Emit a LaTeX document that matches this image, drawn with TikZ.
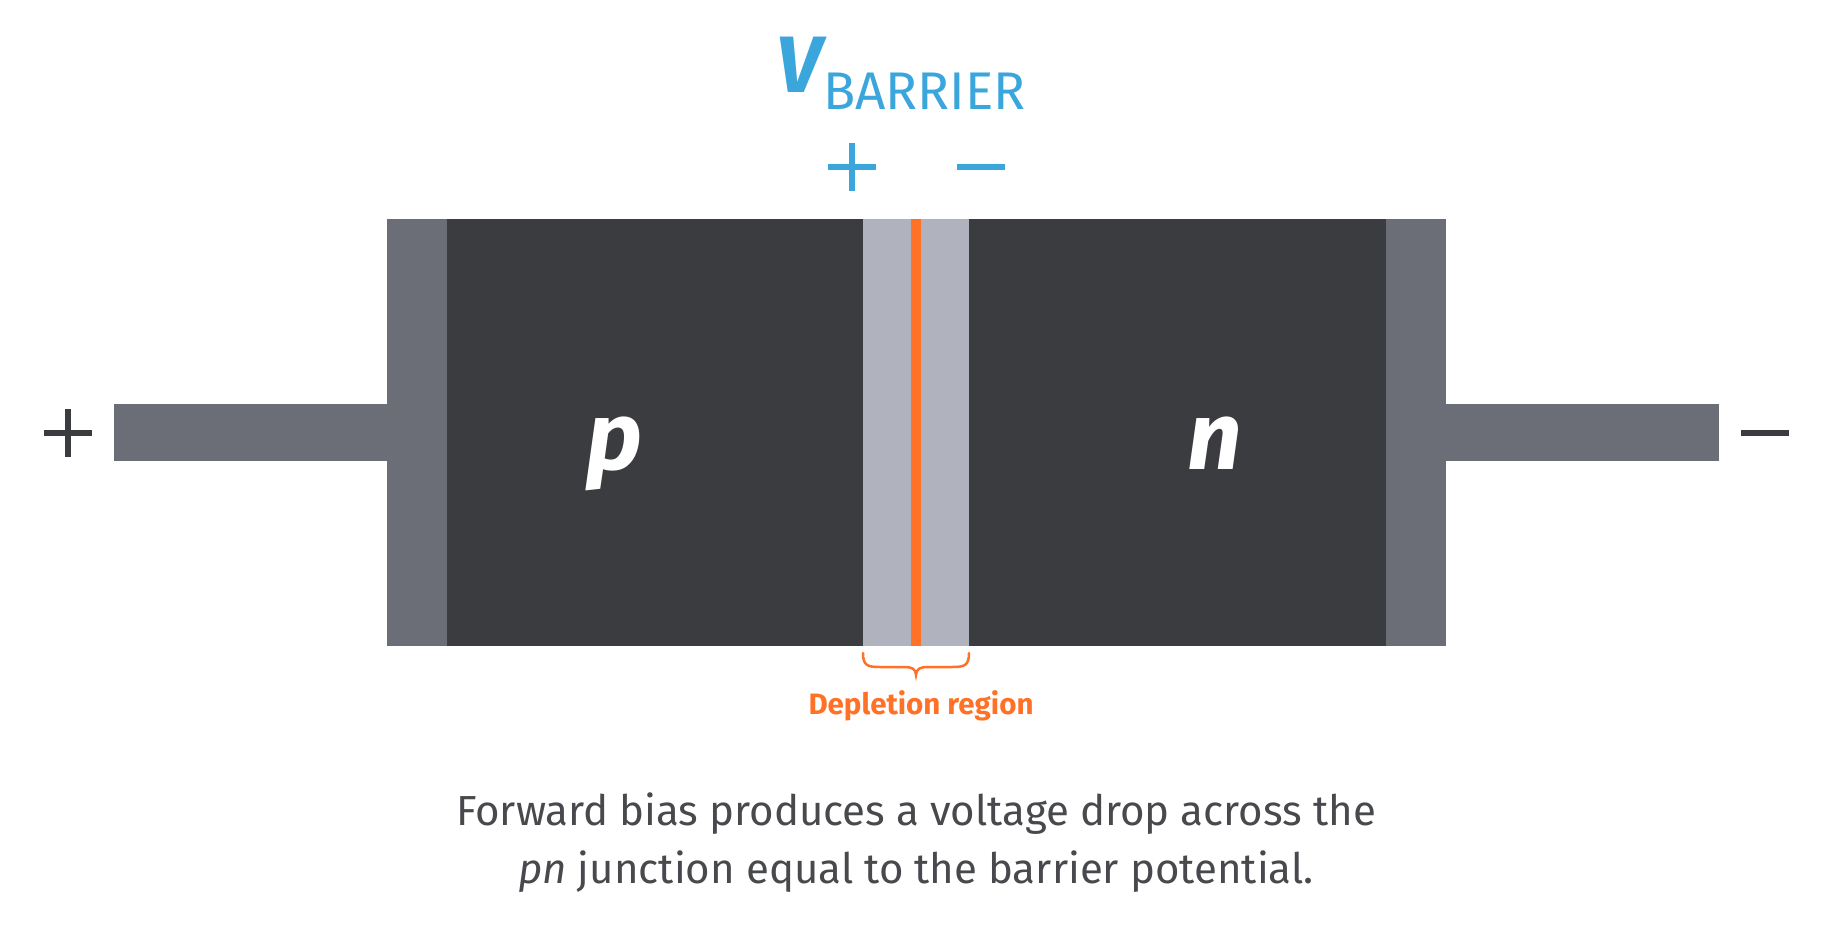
\documentclass[tikz,border=0pt]{standalone}
\usepackage{fontspec}
\setmainfont{Fira Sans}
\definecolor{darkbody}{HTML}{3B3C40}
\definecolor{capgray}{HTML}{6B6E76}
\definecolor{deplgray}{HTML}{B0B3BD}
\definecolor{orng}{HTML}{FF7126}
\definecolor{vblue}{HTML}{3BA6DC}
\definecolor{captxt}{HTML}{48494D}
\begin{document}
\begin{tikzpicture}[x=1pt,y=-1pt,
  sign/.style={line width=6pt},
  lbl/.style={inner sep=0pt, anchor=center},
  pn/.style={lbl, text=white, font=\fontsize{96}{100}\selectfont\bfseries\itshape}]
\useasboundingbox (0,0) rectangle (1832,950);
% leads
\fill[capgray] (114,404) rectangle (387,461);
\fill[capgray] (1446,404) rectangle (1719,461);
% end caps
\fill[capgray] (387,219) rectangle (447,646);
\fill[capgray] (1386,219) rectangle (1446,646);
% p and n regions
\fill[darkbody] (447,219) rectangle (863,646);
\fill[darkbody] (969,219) rectangle (1386,646);
% depletion
\fill[deplgray] (863,219) rectangle (969,646);
\fill[orng] (911,219) rectangle (921,646);
% labels p n
\node[pn, anchor=base] (p) at (614,469) {p};
\node[pn, anchor=base] (n) at (1215,469) {n};
% outer signs
\draw[sign, darkbody] (44,433) -- (92,433) (68,409) -- (68,457);
\draw[sign, darkbody] (1741,433) -- (1789,433);
% blue signs
\draw[sign, vblue] (828,167) -- (876,167) (852,143) -- (852,191);
\draw[sign, vblue] (957,167) -- (1005,167);
% V barrier
\node[lbl, anchor=south west, text=vblue, font=\fontsize{80}{86}\selectfont\bfseries\itshape] (V) at (776,93) {V};
\node[lbl, anchor=south west, text=vblue, font=\fontsize{53}{60}\selectfont] (barrier) at (823,110) {BARRIER};
% brace
\draw[orng, line width=2.5pt, line cap=round]
  (863,653) .. controls (863,666) and (868,667) .. (880,667) -- (904,667)
  .. controls (912,667) and (916,669) .. (916,675)
  .. controls (916,669) and (920,667) .. (928,667) -- (952,667)
  .. controls (964,667) and (969,666) .. (969,653);
\node[lbl, text=orng, font=\fontsize{29.5}{33}\selectfont\bfseries] (depl) at (921,706) {Depletion region};
% caption
\node[lbl, text=captxt, font=\fontsize{42}{48}\selectfont] (cap1) at (916,814) {Forward bias produces a voltage drop across the};
\node[lbl, text=captxt, font=\fontsize{42}{48}\selectfont] (cap2) at (916,872) {\textit{pn} junction equal to the barrier potential.};
\end{tikzpicture}
\end{document}
